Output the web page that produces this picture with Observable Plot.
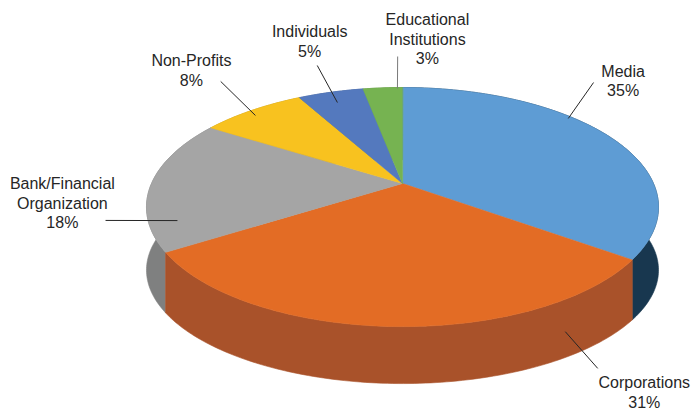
<!DOCTYPE html>
<html>
<head>
<meta charset="utf-8">
<script src="https://cdn.jsdelivr.net/npm/d3@7"></script>
<script src="https://cdn.jsdelivr.net/npm/@observablehq/plot@0.6"></script>
<style>
  html, body { margin: 0; padding: 0; background: #ffffff; }
  #chart svg { display: block; }
</style>
</head>
<body>
<div id="chart"></div>
<script>
// ---- data ----
const categories = ["Media", "Corporations", "Bank/Financial\nOrganization", "Non-Profits", "Individuals", "Educational\nInstitutions"];
const values = [35, 31, 18, 8, 5, 3];
const topColors  = ["#5E9CD4", "#E36C25", "#A5A5A5", "#F8C21F", "#5479BE", "#76B351"];
const sideColors = ["#18374F", "#A9522A", "#7F8080", "#B8901A", "#3C5A91", "#55863A"];

// ---- layout (pie-plane polar coords: angle clockwise from back, radius in pie radii) ----
// [leaderStartAngle, leaderStartR, leaderEndAngle, leaderEndR, labelAngle, labelR]
const labelLayout = [
  [49.4, 0.979, 40.9, 1.406, 44.4, 1.526],
  [153.3, 1.151, 154.2, 1.357, 152.0, 1.512],
  [250.2, 0.896, 254.8, 1.153, 263.0, 1.322],
  [315.3, 0.943, 320.8, 1.389, 319.6, 1.611],
  [339.8, 0.872, 341.7, 1.356, 343.4, 1.713],
  [358.6, 0.988, 359.0, 1.413, 4.5, 1.684]
];
const leaderColors = ["#262626", "#262626", "#262626", "#262626", "#262626", "#7a7a7a"];

// ---- 3-D projection of the pie plane ----
const K = 0.197;        // perspective
const S = 0.4578;       // tilt (sin of elevation)
const DEPTH0 = 0.257;   // thickness of the pie
const DEPTH1 = 0.030;   // thickness variation (front vs. sides)
function project(deg, r, z = 0) {
  const t = deg * Math.PI / 180;
  const X = r * Math.sin(t), Y = r * Math.cos(t);
  const w = 1 + K * Y;
  return {x: X / w, y: S * Y / w - z * (DEPTH0 + DEPTH1 * Math.cos(t))};
}
function arc(a, b, r, z) {
  const n = Math.max(2, Math.ceil(Math.abs(b - a)));
  return d3.range(n + 1).map(i => project(a + (b - a) * i / n, r, z));
}

const total = d3.sum(values);
let acc = 0;
const slices = categories.map((c, i) => {
  const a = acc / total * 360;
  acc += values[i];
  const b = acc / total * 360;
  return {i, key: c, a, b, mid: (a + b) / 2};
});

// walls (back first, front last)
const wallRows = [];
[...slices].sort((p, q) => Math.abs(q.mid - 180) - Math.abs(p.mid - 180)).forEach(s => {
  const pts = [...arc(s.a, s.b, 1, 0), ...arc(s.b, s.a, 1, 1)];
  pts.forEach(p => wallRows.push({key: "side-" + s.i, ...p}));
});
// top faces
const topRows = [];
slices.forEach(s => {
  const pts = [project(0, 0, 0), ...arc(s.a, s.b, 1, 0)];
  pts.forEach(p => topRows.push({key: "top-" + s.i, ...p}));
});

const leaders = slices.map(s => {
  const L = labelLayout[s.i];
  const p1 = project(L[0], L[1]), p2 = project(L[2], L[3]);
  return {x1: p1.x, y1: p1.y, x2: p2.x, y2: p2.y, c: leaderColors[s.i]};
});
const labels = slices.map(s => {
  const L = labelLayout[s.i];
  const p = project(L[4], L[5]);
  return {x: p.x, y: p.y, text: `${s.key}\n${values[s.i]}%`};
});

const colorDomain = [...slices.map(s => "top-" + s.i), ...slices.map(s => "side-" + s.i)];
const colorRange = [...topColors, ...sideColors];

const PX = 251; // pixels per pie radius
const chart = Plot.plot({
  width: 691,
  height: 412,
  margin: 0,
  x: {domain: [-402 / PX, (691 - 402) / PX], axis: null},
  y: {domain: [(183 - 412) / PX, 183 / PX], axis: null},
  color: {domain: colorDomain, range: colorRange},
  style: {fontFamily: "'Liberation Sans', Arial, sans-serif", background: "#ffffff"},
  marks: [
    Plot.line(wallRows, {x: "x", y: "y", z: "key", fill: "key", stroke: "key", strokeWidth: 0.6, curve: "linear-closed"}),
    Plot.line(topRows, {x: "x", y: "y", z: "key", fill: "key", stroke: "key", strokeWidth: 0.6, curve: "linear-closed"}),
    ...leaders.map(l => Plot.link([l], {x1: "x1", y1: "y1", x2: "x2", y2: "y2", stroke: l.c, strokeWidth: 1})),
    Plot.text(labels, {x: "x", y: "y", text: "text", textAnchor: "middle", lineAnchor: "middle", lineHeight: 1.22, fontSize: 16, fill: "#262626"})
  ]
});
document.getElementById("chart").appendChild(chart);
</script>
</body>
</html>
